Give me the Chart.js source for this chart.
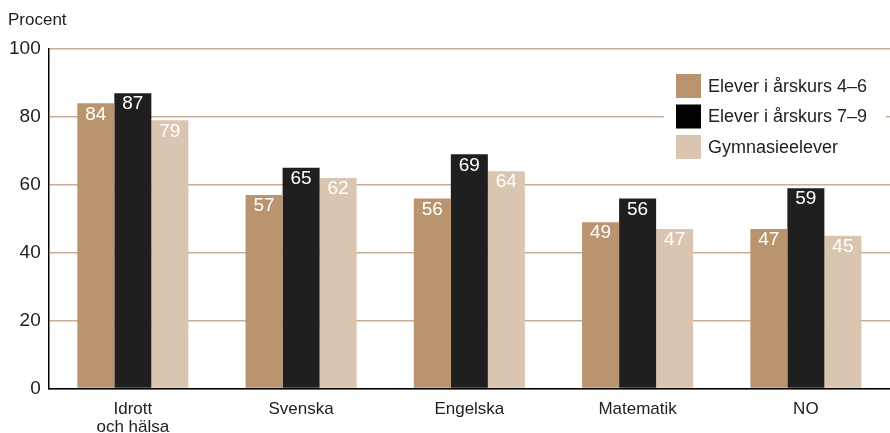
<!DOCTYPE html>
<html lang="sv">
<head>
<meta charset="UTF-8">
<title>Procent</title>
<script src="https://cdn.jsdelivr.net/npm/chart.js@4"></script>
<style>
  html, body { margin: 0; padding: 0; background: #fff; overflow: hidden; }
  #wrap { width: 890px; height: 433px; }
</style>
</head>
<body>
<div id="wrap"><canvas id="chart"></canvas></div>
<script>
const categories = [['Idrott', 'och hälsa'], 'Svenska', 'Engelska', 'Matematik', 'NO'];
const seriesNames = ['Elever i årskurs 4–6', 'Elever i årskurs 7–9', 'Gymnasieelever'];
const grade46 = [84, 57, 56, 49, 47];
const grade79 = [87, 65, 69, 56, 59];
const gymnasium = [79, 62, 64, 47, 45];
const yTicks = [0, 20, 40, 60, 80, 100];

const barColors = ['#b9946f', '#1f1f1f', '#dac5b0'];
const legendColors = ['#b9946f', '#000000', '#dac5b0'];
const FONT = '"Liberation Sans", Arial, sans-serif';

// värden i staplarna
const valueLabels = {
  id: 'valueLabels',
  afterDatasetsDraw(chart) {
    const ctx = chart.ctx;
    ctx.save();
    ctx.font = '19px ' + FONT;
    ctx.fillStyle = '#ffffff';
    ctx.textAlign = 'center';
    ctx.textBaseline = 'middle';
    chart.data.datasets.forEach((ds, i) => {
      chart.getDatasetMeta(i).data.forEach((bar, j) => {
        ctx.fillText(ds.data[j], bar.x, bar.y + 11);
      });
    });
    ctx.restore();
  }
};

// egen förklaring med vit bakgrund + "Procent"
const extras = {
  id: 'extras',
  afterDraw(chart) {
    const ctx = chart.ctx;
    ctx.save();
    ctx.font = '17px ' + FONT;
    ctx.fillStyle = '#222';
    ctx.textAlign = 'left';
    ctx.textBaseline = 'middle';
    ctx.fillText('Procent', 8, 20);

    ctx.fillStyle = '#ffffff';
    ctx.fillRect(664, 68, 222, 96);
    seriesNames.forEach((name, i) => {
      const y = 86 + i * 30.5;
      ctx.fillStyle = legendColors[i];
      ctx.fillRect(676, y - 12, 25, 24);
      ctx.fillStyle = '#222';
      ctx.font = '18px ' + FONT;
      ctx.fillText(name, 708, y + 1);
    });
    ctx.restore();
  }
};

new Chart(document.getElementById('chart').getContext('2d'), {
  type: 'bar',
  data: {
    labels: categories,
    datasets: [
      { label: seriesNames[0], data: grade46, backgroundColor: barColors[0] },
      { label: seriesNames[1], data: grade79, backgroundColor: barColors[1] },
      { label: seriesNames[2], data: gymnasium, backgroundColor: barColors[2] }
    ]
  },
  options: {
    responsive: true,
    maintainAspectRatio: false,
    animation: false,
    devicePixelRatio: 1,
    layout: { padding: { top: 49, right: 0, left: 1, bottom: -15 } },
    datasets: { bar: { categoryPercentage: 0.66, barPercentage: 1 } },
    plugins: {
      legend: { display: false },
      tooltip: { enabled: false }
    },
    scales: {
      x: {
        grid: { display: false, drawTicks: false },
        border: { color: '#000', width: 1.5 },
        ticks: { color: '#222', font: { family: FONT, size: 17, lineHeight: 1.1 }, padding: 11, maxRotation: 0 }
      },
      y: {
        min: 0,
        max: 100,
        afterBuildTicks(axis) { axis.ticks = yTicks.map(v => ({ value: v })); },
        grid: { color: '#c9ad94', lineWidth: 1.5, drawTicks: false },
        border: { color: '#000', width: 1.5 },
        ticks: { color: '#222', font: { family: FONT, size: 19 }, padding: 8 }
      }
    }
  },
  plugins: [valueLabels, extras]
});
</script>
</body>
</html>
